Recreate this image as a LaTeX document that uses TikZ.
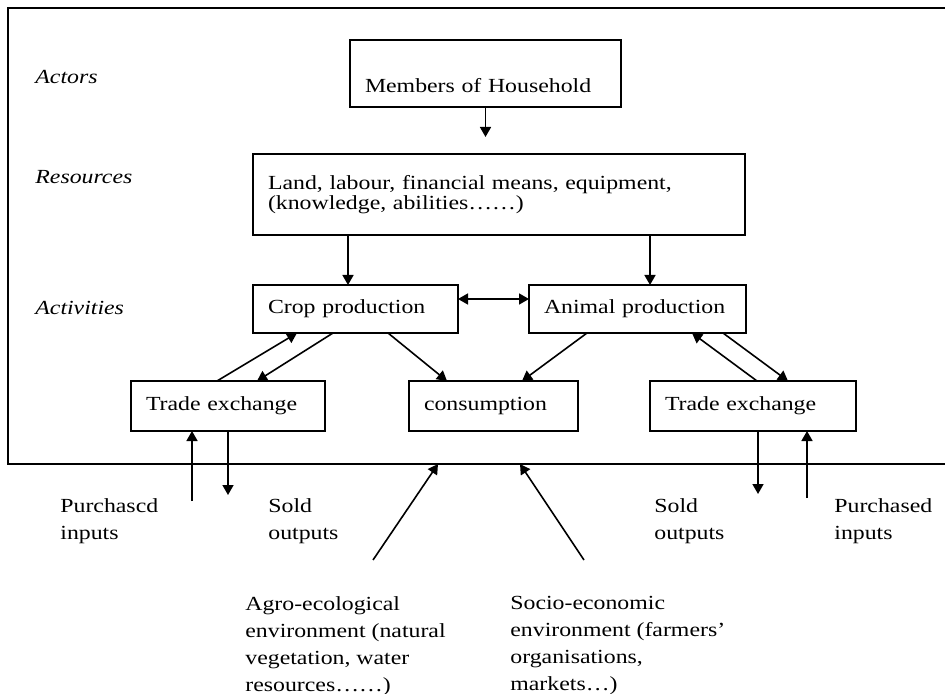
\documentclass[tikz,border=0pt]{standalone}
\usepackage{fontspec}
\setmainfont{Liberation Serif}[FakeStretch=1.19]
\usetikzlibrary{arrows.meta,positioning,calc}

\begin{document}
\begin{tikzpicture}[
    x=0.5pt, y=-0.5pt,
    node distance=25pt and 35.5pt,
    every node/.style={font=\fontsize{10}{13.5}\selectfont},
    box/.style={draw, line width=0.9pt, inner xsep=7.5pt, inner ysep=3pt,
                outer sep=0pt, align=left},
    lbl/.style={anchor=west, inner sep=0pt,
                font=\fontsize{10}{13.5}\selectfont\itshape},
    note/.style={anchor=north west, align=left, inner sep=0pt},
    arr/.style={-{Triangle[length=5pt,width=5.5pt]}, line width=0.8pt},
    dbl/.style={{Triangle[length=5pt,width=5.5pt]}-{Triangle[length=5pt,width=5.5pt]},
                line width=0.8pt},
    frame/.style={line width=1.1pt}
  ]
    \useasboundingbox (0,0) rectangle (945,694);

    % Household frame, open to the right
    \draw[frame] (945,8) -- (8,8) -- (8,464) -- (945,464);

    % Levels
    \node[lbl] (actors) at (35,77) {Actors};
    \node[lbl] (resources) at (35,177) {Resources};
    \node[lbl] (activities) at (35,308) {Activities};

    \node[box, text width=120.5pt, text height=23.5pt, text depth=4pt] (hh)
      at (485.5,73.5) {Members of Household};
    \node[box, text width=231pt, minimum height=40.5pt,
          font=\fontsize{10}{10}\selectfont] (res) at (499,194.5) {
      Land, labour, financial means, equipment,\\
      (knowledge, abilities……)
    };
    \node[box, text width=87.5pt, minimum height=24pt,
          below=25pt of res.south west, anchor=north west] (crop) {Crop production};
    \node[box, text width=93.5pt, minimum height=24pt, right=35.5pt of crop]
      (animal) {Animal production};

    \node[box, text width=82pt, minimum height=25pt] (tradeL) at (228,406) {Trade exchange};
    \node[box, text width=69.5pt, minimum height=25pt, right=42pt of tradeL]
      (cons) {consumption};
    \node[box, text width=88pt, minimum height=25pt, right=36pt of cons]
      (tradeR) {Trade exchange};

    \coordinate[below=15pt of hh] (hhtip);
    \draw[arr] (hh) -- (hhtip);
    \draw[arr] ([xshift=-3.75pt]crop.north |- res.south) -- ([xshift=-3.75pt]crop.north);
    \draw[arr] ([xshift=6.25pt]animal.north |- res.south) -- ([xshift=6.25pt]animal.north);
    \draw[dbl] ([yshift=5pt]crop.east) -- ([yshift=5pt]animal.west);

    \draw[arr] ([xshift=-5.5pt]tradeL.north) -- ([xshift=-29.25pt]crop.south);
    \draw[arr] ([xshift=-11.25pt]crop.south) -- ([xshift=14.5pt]tradeL.north);
    \draw[arr] ([xshift=16.25pt]crop.south) -- ([xshift=-23.25pt]cons.north);
    \draw[arr] ([xshift=-25.25pt]animal.south) -- ([xshift=14.25pt]cons.north);
    \draw[arr] ([xshift=2pt]tradeR.north) -- ([xshift=27.25pt]animal.south);
    \draw[arr] ([xshift=42.75pt]animal.south) -- ([xshift=17.5pt]tradeR.north);

    % Flows across the frame
    \coordinate (pinL) at ($([xshift=-18pt]tradeL.south)+(0,70)$);
    \coordinate (soldL) at ($(tradeL.south)+(0,64)$);
    \coordinate (soldR) at ($([xshift=2.5pt]tradeR.south)+(0,63)$);
    \coordinate (pinR) at ($([xshift=27pt]tradeR.south)+(0,67)$);
    \draw[arr] (pinL) -- ([xshift=-18pt]tradeL.south);
    \draw[arr] (tradeL.south) -- (soldL);
    \draw[arr] ([xshift=2.5pt]tradeR.south) -- (soldR);
    \draw[arr] (pinR) -- ([xshift=27pt]tradeR.south);

    \node[note] (purchL) at (60,498) {Purchascd\\inputs};
    \node[note] (soldtxtL) at (268,498) {Sold\\outputs};
    \node[note] (soldtxtR) at (654,498) {Sold\\outputs};
    \node[note] (purchR) at (834,498) {Purchased\\inputs};

    % Environment
    \coordinate (agrofoot) at (373,560);
    \coordinate (agrotip) at (438,464);
    \coordinate (sociofoot) at (584,560);
    \coordinate (sociotip) at (520,464);
    \draw[arr] (agrofoot) -- (agrotip);
    \draw[arr] (sociofoot) -- (sociotip);

    \node[note] (agro) at (245,596) {Agro-ecological\\environment (natural\\vegetation, water\\resources……)};
    \node[note] (socio) at (510,596) {Socio-economic\\environment (farmers’\\organisations,\\markets…)};
  \end{tikzpicture}
\end{document}
